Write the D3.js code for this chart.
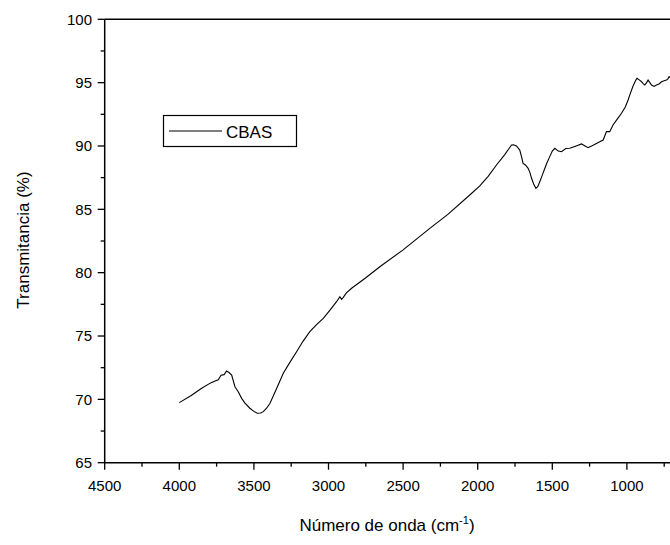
<!DOCTYPE html>
<html><head><meta charset="utf-8">
<script src="https://cdn.jsdelivr.net/npm/d3@7"></script>
<style>body{margin:0;background:#fff}svg{display:block}text{font-family:"Liberation Sans",Arial,sans-serif;fill:#000}</style>
</head><body><svg id="c" width="670" height="545"></svg>
<script>
const wavenumber = [4000,3920,3850,3790,3760,3739,3720,3700,3683,3665,3649,3627,3605,3582,3560,3527,3500,3477,3455,3437,3415,3392,3350,3303,3260,3214,3170,3125,3080,3035,2990,2946,2924,2912,2901,2880,2845,2750,2656,2500,2321,2200,2053,1986,1930,1874,1820,1790,1773,1760,1740,1718,1705,1696,1680,1662,1650,1639,1625,1610,1597,1584,1567,1550,1535,1517,1500,1483,1460,1438,1410,1383,1340,1304,1280,1260,1220,1182,1159,1137,1115,1093,1060,1036,1010,992,981,960,940,932,915,902,890,880,868,858,846,835,818,802,785,768,750,735,725,717,711];
const transmittance = [69.74,70.3,70.87,71.3,71.45,71.55,71.9,71.95,72.24,72.1,71.92,71.0,70.6,70.08,69.7,69.3,69.05,68.9,68.92,69.03,69.3,69.69,70.8,72.06,72.9,73.76,74.6,75.34,75.9,76.4,77.05,77.71,78.1,77.9,78.05,78.4,78.77,79.6,80.47,81.8,83.5,84.6,86.13,86.85,87.6,88.5,89.3,89.8,90.08,90.1,90.0,89.68,89.1,88.63,88.5,88.24,87.9,87.45,87.0,86.66,86.8,87.18,87.7,88.24,88.7,89.16,89.6,89.82,89.6,89.55,89.8,89.82,90.0,90.16,90.0,89.87,90.1,90.34,90.47,91.13,91.13,91.66,92.2,92.58,93.1,93.63,94.02,94.7,95.2,95.34,95.2,95.07,94.9,94.81,95.0,95.2,95.0,94.81,94.7,94.81,94.9,95.07,95.15,95.2,95.3,95.47,95.4];
const xTicks = [4500,4000,3500,3000,2500,2000,1500,1000];
const yTicks = [65,70,75,80,85,90,95,100];
const seriesName = "CBAS";

const svg = d3.select("#c");
const x = d3.scaleLinear().domain([4500,1000]).range([104.7,626.9]);
const y = d3.scaleLinear().domain([65,100]).range([462.7,19.3]);
const xEnd = 670;

const g = svg.append("g");
g.append("line").attr("x1",104.7).attr("x2",xEnd).attr("y1",462.7).attr("y2",462.7).attr("stroke","#000").attr("stroke-width",1.5);
g.append("line").attr("x1",104.7).attr("x2",xEnd).attr("y1",19.3).attr("y2",19.3).attr("stroke","#000").attr("stroke-width",1.5);
g.append("line").attr("x1",104.7).attr("x2",104.7).attr("y1",19.3).attr("y2",462.7).attr("stroke","#000").attr("stroke-width",1.5);

const xMinor = d3.range(4500,700,-250);
g.selectAll(".xt").data(xMinor).enter().append("line")
  .attr("x1",d=>x(d)).attr("x2",d=>x(d)).attr("y1",462.7)
  .attr("y2",d=>d%500===0?469.7:466.7).attr("stroke","#000").attr("stroke-width",1.3);
g.selectAll(".xl").data(xTicks).enter().append("text")
  .attr("x",d=>x(d)).attr("y",491).attr("text-anchor","middle").attr("font-size",15).text(d=>d);

const yMinor = d3.range(65,100.1,2.5);
g.selectAll(".yt").data(yMinor).enter().append("line")
  .attr("y1",d=>y(d)).attr("y2",d=>y(d)).attr("x1",104.7)
  .attr("x2",d=>d%5===0?97.7:100.7).attr("stroke","#000").attr("stroke-width",1.3);
g.selectAll(".yl").data(yTicks).enter().append("text")
  .attr("x",92).attr("y",d=>y(d)+5.3).attr("text-anchor","end").attr("font-size",15).text(d=>d);

svg.append("text").attr("transform","translate(29,240) rotate(-90)").attr("text-anchor","middle").attr("font-size",17).text("Transmitancia (%)");
const xt = svg.append("text").attr("x",387).attr("y",531).attr("text-anchor","middle").attr("font-size",17);
xt.append("tspan").text("Número de onda (cm");
xt.append("tspan").attr("font-size",11).attr("dy",-7).text("-1");
xt.append("tspan").attr("dy",7).text(")");

const line = d3.line().x((d,i)=>x(wavenumber[i])).y(d=>y(d));
svg.append("path").datum(transmittance).attr("d",line).attr("fill","none").attr("stroke","#000").attr("stroke-width",1.1);

const lg = svg.append("g");
lg.append("rect").attr("x",163.5).attr("y",115.5).attr("width",133).attr("height",31).attr("fill","#fff").attr("stroke","#000").attr("stroke-width",1.2);
lg.append("line").attr("x1",169).attr("x2",222).attr("y1",131).attr("y2",131).attr("stroke","#000").attr("stroke-width",1.1);
lg.append("text").attr("x",226).attr("y",137.5).attr("font-size",17).text(seriesName);
</script></body></html>
